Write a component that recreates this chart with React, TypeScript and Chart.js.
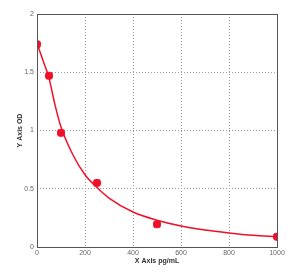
import React, { useEffect, useRef } from "react";
import { Chart, registerables } from "chart.js";
Chart.register(...registerables);

const pointX = [0, 50, 100, 250, 500, 1000];
const pointY = [1.74, 1.47, 0.98, 0.55, 0.195, 0.088];
const curveX = [0, 25, 50, 75, 100, 150, 200, 250, 300, 400, 500, 600, 700, 800, 900, 1000];
const curveY = [1.75, 1.6, 1.45, 1.22, 1.03, 0.79, 0.62, 0.51, 0.42, 0.3, 0.23, 0.18, 0.145, 0.12, 0.1, 0.088];
const xTicks = [0, 200, 400, 600, 800, 1000];
const yTicks = [0, 0.5, 1, 1.5, 2];
const xTitle = "X Axis pg/mL";
const yTitle = "Y Axis OD";

const framePlugin = {
  id: "frame",
  afterDatasetsDraw(chart: any) {
    const { ctx, chartArea } = chart;
    ctx.save();
    ctx.strokeStyle = "#555";
    ctx.lineWidth = 1;
    ctx.strokeRect(chartArea.left + 0.5, chartArea.top + 0.5, chartArea.right - chartArea.left, chartArea.bottom - chartArea.top);
    ctx.restore();
  },
};

export default function App() {
  const ref = useRef<HTMLCanvasElement>(null);
  useEffect(() => {
    const chart = new Chart(ref.current!, {
      type: "scatter",
      data: {
        datasets: [
          {
            type: "line",
            data: curveX.map((x, i) => ({ x, y: curveY[i] })),
            borderColor: "#f0102a",
            borderWidth: 1.5,
            pointRadius: 0,
            cubicInterpolationMode: "monotone",
            fill: false,
            order: 2,
          } as any,
          {
            data: pointX.map((x, i) => ({ x, y: pointY[i] })),
            backgroundColor: "#f0102a",
            borderColor: "#f0102a",
            pointStyle: "rectRounded",
            pointRadius: 4,
            order: 1,
          },
        ],
      },
      options: {
        animation: false,
        responsive: false,
        layout: { padding: { top: 14, right: 18, left: 12, bottom: 6 } },
        plugins: { legend: { display: false }, tooltip: { enabled: false } },
        scales: {
          x: {
            type: "linear",
            min: 0,
            max: 1000,
            afterBuildTicks: (s: any) => { s.ticks = xTicks.map((v) => ({ value: v })); },
            afterFit: (s: any) => { s.height = 22; },
            ticks: { color: "#666", font: { size: 7, family: "Arial" }, padding: 2, callback: (v: any) => String(v) },
            grid: { color: "#999", drawTicks: false },
            border: { display: false, dash: [1, 2] },
            title: { display: true, text: xTitle, color: "#333", font: { size: 7, weight: "bold", family: "Arial" }, padding: { top: 1 } },
          },
          y: {
            type: "linear",
            min: 0,
            max: 2,
            afterBuildTicks: (s: any) => { s.ticks = yTicks.map((v) => ({ value: v })); },
            afterFit: (s: any) => { s.width = 25; },
            ticks: { color: "#666", font: { size: 7, family: "Arial" }, padding: 3, callback: (v: any) => String(v) },
            grid: { color: "#999", drawTicks: false },
            border: { display: false, dash: [1, 2] },
            title: { display: true, text: yTitle, color: "#333", font: { size: 7, weight: "bold", family: "Arial" }, padding: { bottom: 4 } },
          },
        },
      },
      plugins: [framePlugin],
    } as any);
    return () => chart.destroy();
  }, []);
  return (
    <div style={{ position: "fixed", left: 0, top: 0, width: 295, height: 275, background: "#fff" }}>
      <canvas ref={ref} width={295} height={275} />
    </div>
  );
}
